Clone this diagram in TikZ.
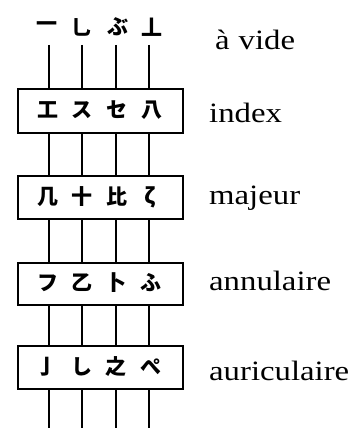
\documentclass[tikz,border=0pt]{standalone}
\usepackage{fontspec}
\setmainfont{Liberation Serif}
\newfontfamily\labfont[FakeStretch=1.17]{Liberation Serif}
\newfontfamily\cjk{Noto Sans CJK JP}
\begin{document}
\begin{tikzpicture}[x=1pt,y=-1pt,
  fbox/.style={draw,line width=1.6pt,minimum width=165pt,inner sep=0pt,anchor=north west},
  glyph/.style={font=\cjk\bfseries\fontsize{21}{21}\selectfont,inner sep=0pt},
  lab/.style={font=\labfont\fontsize{28}{30}\selectfont,anchor=base west,inner sep=0pt},
  str/.style={line width=1.6pt}]
\useasboundingbox (0,0) rectangle (352,428);
% boxes
\node[fbox,minimum height=44pt] (b1) at (17,88) {};
\node[fbox,minimum height=43pt] (b2) at (17,175) {};
\node[fbox,minimum height=42pt] (b3) at (17,262) {};
\node[fbox,minimum height=43pt] (b4) at (17,345) {};
% string ends
\coordinate (t1) at (49,45);  \coordinate (t2) at (82,45);
\coordinate (t3) at (116,45); \coordinate (t4) at (149,45);
\coordinate (u1) at (49,428);  \coordinate (u2) at (82,428);
\coordinate (u3) at (116,428); \coordinate (u4) at (149,428);
\foreach \i in {1,2,3,4}{
  \draw[str] (t\i) -- (t\i |- b1.north);
  \draw[str] (t\i |- b1.south) -- (t\i |- b2.north);
  \draw[str] (t\i |- b2.south) -- (t\i |- b3.north);
  \draw[str] (t\i |- b3.south) -- (t\i |- b4.north);
  \draw[str] (t\i |- b4.south) -- (u\i);
}
% top glyphs (open strings)
\node[glyph] (g01) at (47,27) {一};
\node[glyph] (g02) at (82,27) {乚};
\node[glyph] (g03) at (118,27) {ぶ};
\node[glyph] (g04) at (152,27) {丄};
% index
\node[glyph] (g11) at (48,110) {工};
\node[glyph] (g12) at (82,110) {ス};
\node[glyph] (g13) at (117,110) {セ};
\node[glyph] (g14) at (152,110) {八};
% majeur
\node[glyph] (g21) at (48,197) {几};
\node[glyph] (g22) at (82,197) {十};
\node[glyph] (g23) at (117,197) {比};
\node[glyph] (g24) at (150,197) {ζ};
% annulaire
\node[glyph] (g31) at (48,283) {フ};
\node[glyph] (g32) at (82,283) {乙};
\node[glyph] (g33) at (116,283) {卜};
\node[glyph] (g34) at (151,283) {ふ};
% auriculaire
\node[glyph] (g41) at (47,367) {亅};
\node[glyph] (g42) at (82,367) {し};
\node[glyph] (g43) at (116,367) {之};
\node[glyph] (g44) at (151,367) {ぺ};
% labels
\node[lab] (l0) at (215,50) {à\hspace{9pt}vide};
\node[lab] (l1) at (209,122) {index};
\node[lab] (l2) at (209,204) {majeur};
\node[lab] (l3) at (209,290) {annulaire};
\node[lab] (l4) at (209,380) {auriculaire};
\end{tikzpicture}
\end{document}
